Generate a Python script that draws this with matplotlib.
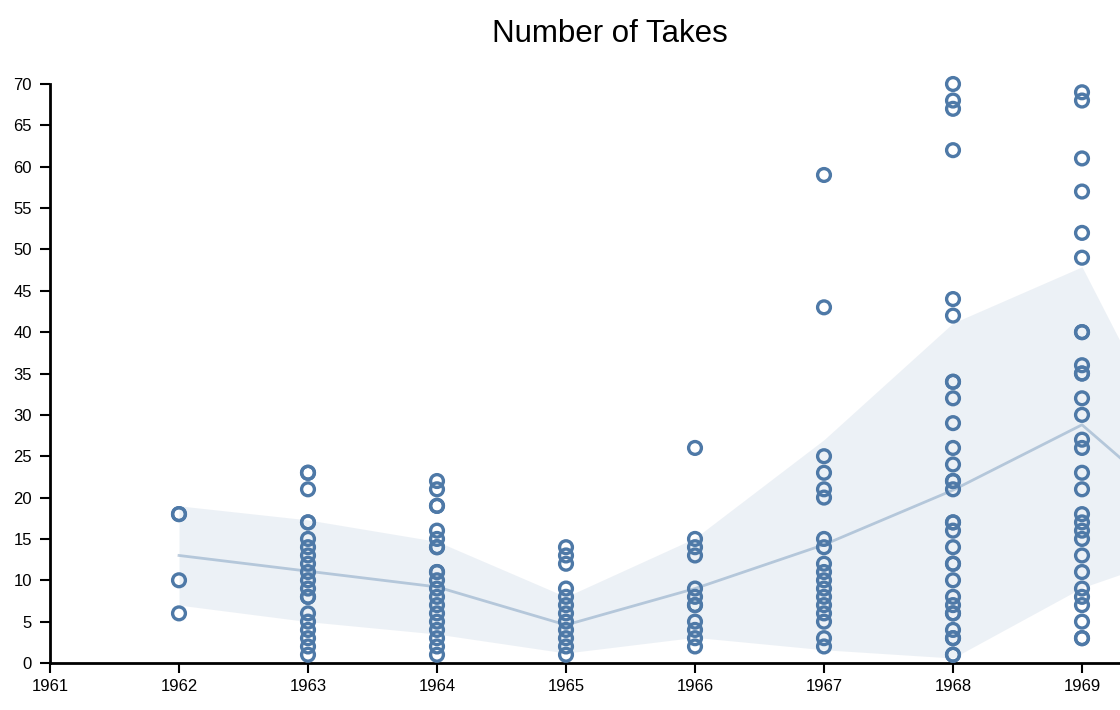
import matplotlib.pyplot as plt
import numpy as np

plt.rcParams['font.family'] = ['Liberation Sans', 'DejaVu Sans']

# takes per recording, grouped by year
takes = {
    1962: [18, 18, 10, 6],
    1963: [23, 23, 21, 17, 17, 15, 14, 13, 12, 11, 10, 9, 8, 8, 6, 5, 4, 3, 2, 1],
    1964: [22, 21, 19, 19, 16, 15, 14, 14, 11, 11, 10, 9, 8, 7, 6, 5, 4, 3, 2, 1],
    1965: [14, 13, 12, 9, 8, 7, 6, 5, 4, 3, 2, 1],
    1966: [26, 15, 14, 13, 9, 8, 7, 7, 5, 4, 3, 2],
    1967: [59, 43, 25, 23, 21, 20, 15, 14, 12, 11, 10, 9, 8, 7, 6, 5, 3, 2],
    1968: [70, 68, 67, 62, 44, 42, 34, 34, 32, 29, 26, 24, 22, 22, 21, 17, 17, 16,
           14, 12, 12, 10, 8, 7, 6, 6, 4, 3, 3, 1, 1],
    1969: [69, 68, 61, 57, 52, 49, 40, 40, 36, 35, 35, 32, 30, 27, 26, 23, 21, 18,
           17, 16, 15, 13, 11, 9, 8, 7, 5, 3, 3],
}

# mean line and band (1970 runs past the right edge)
stat_years = [1962, 1963, 1964, 1965, 1966, 1967, 1968, 1969, 1970]
mean_takes = [13, 11.1, 9.2, 4.6, 9.0, 14.3, 20.9, 28.8, 15.3]
band_low = [7, 5.0, 3.5, 1.2, 3.1, 1.6, 0.6, 9.1, 14.5]
band_high = [19, 17.3, 14.7, 8.0, 15.1, 27.0, 41.1, 47.9, 17.5]

blue = '#4e79a7'

fig = plt.figure(figsize=(11.2, 7.1), dpi=100)
ax = fig.add_axes([50/1120, 47/710, 1070/1120, 579/710])

ax.fill_between(stat_years, band_low, band_high, color=blue, alpha=0.1, lw=0, zorder=1)
ax.plot(stat_years, mean_takes, color=blue, alpha=0.35, lw=2, zorder=2)

for yr, vals in takes.items():
    ax.scatter([yr]*len(vals), vals, s=85, facecolors='none', edgecolors=blue,
               linewidths=2.4, zorder=3, clip_on=False)

ax.set_xlim(1961, 1961 + 1070/129)
ax.set_ylim(0, 70)
ax.set_xticks(range(1961, 1970))
ax.set_yticks(range(0, 71, 5))
ax.tick_params(labelsize=12, length=7.5, width=1.5, color='black', pad=4)
ax.tick_params(axis='y', pad=5.5)
for s in ['top', 'right']:
    ax.spines[s].set_visible(False)
for s in ['left', 'bottom']:
    ax.spines[s].set_linewidth(2)

fig.text(610/1120, 1 - 34/710, 'Number of Takes', ha='center', va='center', fontsize=22.5)

fig.savefig('out.png', dpi=100)
